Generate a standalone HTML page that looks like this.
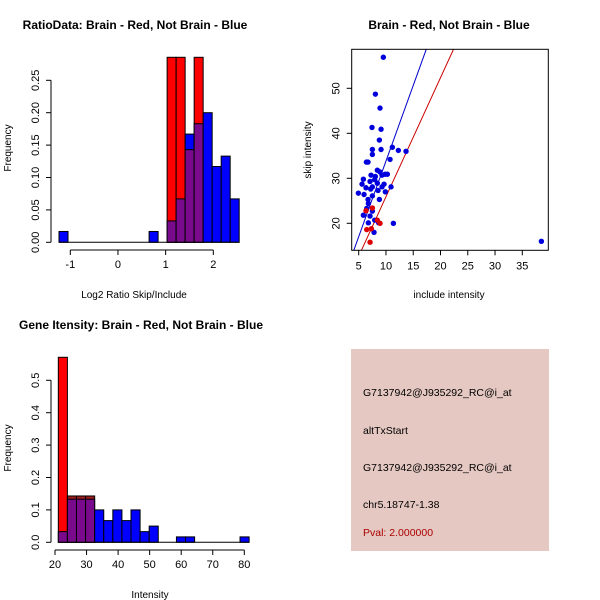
<!DOCTYPE html>
<html><head><meta charset="utf-8"><style>
body{margin:0;background:#fff;}
svg{display:block;font-family:"Liberation Sans",sans-serif;}
</style></head><body>
<svg id="s" width="600" height="600" viewBox="0 0 600 600"></svg>
<script>
// Ratio histogram data
const ratioBinStart = -1.237, ratioBinWidth = 0.189;
const ratioBlue = [0.0167,0,0,0,0,0,0,0,0,0,0.0167,0,0.033,0.067,0.167,0.183,0.2,0.117,0.133,0.067];
const ratioRed  = [0,0,0,0,0,0,0,0,0,0,0,0,0.286,0.286,0.143,0.286,0,0,0,0];
const ratioXTicks = [-1,0,1,2];
const ratioYTicks = [0,0.05,0.10,0.15,0.20,0.25];
const ratioYLabels = ["0.00","0.05","0.10","0.15","0.20","0.25"];
// Scatter data
const blueInclude = [9.52,8.06,8.91,7.44,9.10,8.79,7.51,9.10,7.51,11.17,12.27,13.68,10.75,6.41,6.71,8.42,8.91,7.26,8.06,9.28,9.83,10.26,5.86,7.08,7.93,5.61,8.42,9.65,6.34,7.51,9.28,10.93,7.2,8.55,9.89,4.94,5.98,7.51,6.71,8.79,6.77,6.47,7.51,5.86,7.08,7.93,8.67,6.77,11.36,7.81,38.5];
const blueSkip    = [56.9,48.7,45.6,41.3,40.9,38.5,36.4,36.4,35.3,36.9,36.2,36.0,34.2,33.6,33.6,31.8,31.4,30.7,30.4,30.7,30.9,30.9,29.8,29.3,29.7,28.7,28.9,28.7,27.9,28.1,28.1,28.1,27.6,27.3,27.0,26.7,26.4,26.1,25.3,25.3,24.4,23.3,22.7,21.8,21.6,20.7,20.1,20.1,20.0,18.0,16.0];
const redInclude  = [6.34,7.51,8.91,8.42,6.47,7.32,7.08];
const redSkip     = [22.8,23.4,20.0,20.7,18.6,18.8,15.8];
const blueLine = [4.1,14.0,17.4,58.7];
const redLine  = [5.5,14.0,22.4,58.7];
const scatXTicks = [5,10,15,20,25,30,35];
const scatYTicks = [20,30,40,50];
// Intensity histogram data
const intBinStart = 21.05, intBinWidth = 2.88;
const intBlue = [0.033,0.133,0.133,0.133,0.1,0.067,0.1,0.067,0.1,0.033,0.05,0,0,0.0167,0.0167,0,0,0,0,0,0.0167];
const intRed  = [0.571,0.143,0.143,0.143,0,0,0,0,0,0,0,0,0,0,0,0,0,0,0,0,0];
const intXTicks = [20,30,40,50,60,70,80];
const intYTicks = [0,0.1,0.2,0.3,0.4,0.5];
const intYLabels = ["0.0","0.1","0.2","0.3","0.4","0.5"];

const S=document.getElementById('s');
const NS='http://www.w3.org/2000/svg';
function el(t,a,p){const e=document.createElementNS(NS,t);for(const k in a)e.setAttribute(k,a[k]);(p||S).appendChild(e);return e;}
function txt(x,y,s,opts){const e=el('text',Object.assign({x:x,y:y,'font-size':11,'text-anchor':'middle',fill:'#000'},opts||{}));e.textContent=s;return e;}

function hist(o){
  const g=el('g',{});
  
  
  const X=v=>o.x0+(v-o.xv0)*o.xs, Y=v=>o.y0-v*o.ys;
  const top=o.clipTop;
  for(let i=0;i<o.blue.length;i++){
    const a=o.binStart+i*o.binW, x1=X(a), x2=X(a+o.binW);
    const b=o.blue[i], r=o.red[i], m=Math.min(b,r);
    const hi=Math.max(b,r);
    if(hi<=0) continue;
    const yv=v=>Math.max(Y(v),top);
    if(b>r){const e=el('rect',{x:x1,y:yv(b),width:x2-x1,height:Y(0)-yv(b),fill:'#0000ff',stroke:'#000','stroke-width':1},g);
      }
    if(r>b){const e=el('rect',{x:x1,y:yv(r),width:x2-x1,height:Y(0)-yv(r),fill:(o.darkRed&&o.darkRed[i])?'#9c1c1c':'#ff0000',stroke:'#000','stroke-width':1},g);
      }
    if(m>0){const e=el('rect',{x:x1,y:yv(m),width:x2-x1,height:Y(0)-yv(m),fill:'#7a0a8c',stroke:'#000','stroke-width':1},g);
      }
  }
  // baseline
  el('line',{x1:X(o.binStart),x2:X(o.binStart+o.blue.length*o.binW),y1:Y(0),y2:Y(0),stroke:'#000'},g);
  // y axis
  const ya=el('g',{},g);
  el('line',{x1:o.x0-0?o.yAxX:0,x2:o.yAxX,y1:Y(o.yt[0]),y2:Y(o.yt[o.yt.length-1]),stroke:'#000'},ya);
  o.yt.forEach((v,i)=>{el('line',{x1:o.yAxX-5,x2:o.yAxX,y1:Y(v),y2:Y(v),stroke:'#000'},ya);
    const t=txt(o.yAxX-12,Y(v),o.yl[i],{transform:`rotate(-90 ${o.yAxX-12} ${Y(v)})`});});
  const xa=el('g',{},g);
  el('line',{x1:X(o.xt[0]),x2:X(o.xt[o.xt.length-1]),y1:o.xAxY,y2:o.xAxY,stroke:'#000'},xa);
  o.xt.forEach(v=>{el('line',{x1:X(v),x2:X(v),y1:o.xAxY,y2:o.xAxY+5,stroke:'#000'},xa);txt(X(v),o.xAxY+18,String(v),{},xa);});
}
hist({name:'ratio-histogram',x0:70.3,xv0:-1,xs:47.67,y0:242.3,ys:648,blue:ratioBlue,red:ratioRed,binStart:ratioBinStart,binW:ratioBinWidth,
  clipTop:57.3,yAxX:51,yt:ratioYTicks,yl:ratioYLabels,xt:ratioXTicks,xAxY:250});
hist({name:'intensity-histogram',x0:55,xv0:20,xs:3.155,y0:542.3,ys:324,blue:intBlue,red:intRed,binStart:intBinStart,binW:intBinWidth,
  clipTop:0,yAxX:51,yt:intYTicks,yl:intYLabels,xt:intXTicks,xAxY:550,darkRed:[0,1,1,1]});

// titles & labels
function lab(x,y,s,name,o){const t=txt(x,y,s,o);}
lab(135,29,'RatioData: Brain - Red, Not Brain - Blue','ratio-title',{'font-weight':'bold','font-size':12});
lab(449,29,'Brain - Red, Not Brain - Blue','scatter-title',{'font-weight':'bold','font-size':12});
lab(141,329,'Gene Itensity: Brain - Red, Not Brain - Blue','intensity-title',{'font-weight':'bold','font-size':12});
lab(134,298,'Log2 Ratio Skip/Include','ratio-x-title',{'font-size':10});
lab(150,598,'Intensity','intensity-x-title',{'font-size':10});
lab(449,298,'include intensity','scatter-x-title',{'font-size':10});
lab(11,148,'Frequency','ratio-y-title',{'font-size':10,transform:'rotate(-90 11 148)'});
lab(11,448,'Frequency','intensity-y-title',{'font-size':10,transform:'rotate(-90 11 448)'});
lab(311,150,'skip intensity','scatter-y-title',{'font-size':10,transform:'rotate(-90 311 150)'});

// scatter
(function(){
  const g=el('g',{});
  const L=351.7,R=548.3,T=49.3,B=250.3;
  const X=v=>358.7+(v-5)*5.453, Y=v=>223.3-(v-20)*4.5;
  const cp=el('clipPath',{id:'cp'},g);el('rect',{x:L,y:T,width:R-L,height:B-T},cp);
  const pl=el('g',{'clip-path':'url(#cp)'},g);
  const bl=el('line',{x1:X(blueLine[0]),y1:Y(blueLine[1]),x2:X(blueLine[2]),y2:Y(blueLine[3]),stroke:'#0000cc'},pl);
  
  const rl=el('line',{x1:X(redLine[0]),y1:Y(redLine[1]),x2:X(redLine[2]),y2:Y(redLine[3]),stroke:'#cc0000'},pl);
  
  blueInclude.forEach((v,i)=>{const c=el('circle',{cx:X(v),cy:Y(blueSkip[i]),r:2.7,fill:'#0000dd'},pl);
    });
  redInclude.forEach((v,i)=>{const c=el('circle',{cx:X(v),cy:Y(redSkip[i]),r:2.7,fill:'#dd0000'},pl);
    });
  el('rect',{x:L,y:T,width:R-L,height:B-T,fill:'none',stroke:'#000'},g);
  scatXTicks.forEach(v=>{el('line',{x1:X(v),x2:X(v),y1:B,y2:B+5,stroke:'#000'},g);txt(X(v),B+19,String(v),{},g);});
  scatYTicks.forEach(v=>{el('line',{x1:L-5,x2:L,y1:Y(v),y2:Y(v),stroke:'#000'},g);txt(L-12,Y(v),String(v),{transform:`rotate(-90 ${L-12} ${Y(v)})`},g);});
})();

// info box
(function(){
  const g=el('g',{});
  el('rect',{x:351,y:349,width:198,height:202,fill:'#e5c8c2'},g);
  const lines=[['G7137942@J935292_RC@i_at',396,'#000','probe-id'],['altTxStart',434,'#000','event-type'],['G7137942@J935292_RC@i_at',471,'#000','probe-id-2'],['chr5.18747-1.38',508,'#000','location'],['Pval: 2.000000',536,'#aa0000','p-value']];
  lines.forEach(l=>{const t=txt(363,l[1],l[0],{'text-anchor':'start','font-size':10.5,fill:l[2]},g);});
})();
</script>
</body></html>
